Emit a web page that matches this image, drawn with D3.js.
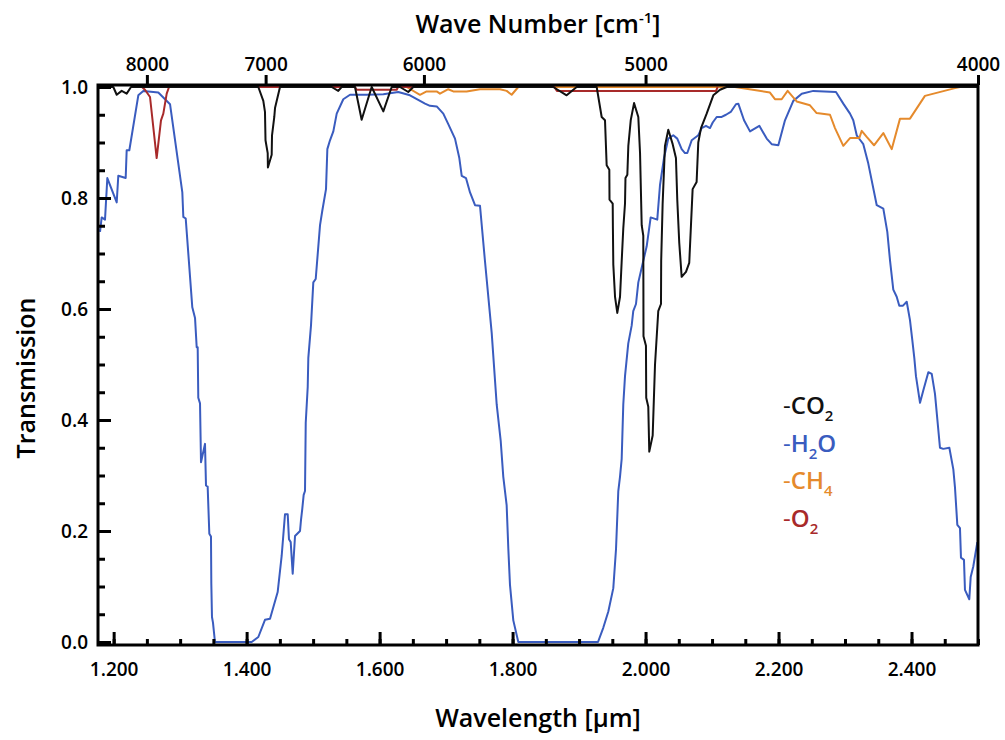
<!DOCTYPE html>
<html>
<head>
<meta charset="utf-8">
<script src="https://cdn.jsdelivr.net/npm/d3@7"></script>
<style>
  body { margin: 0; background: #fff; }
  svg text { font-family: "Open Sans", Lato, sans-serif; }
</style>
</head>
<body>
<svg id="chart"></svg>
<script>
const width = 1005;
const height = 740;
// plot frame 98..978 x 85..645, data T=0..1 maps to 642..87
const frame = { left: 98, right: 978, top: 85, bottom: 645 };

// wavelength [µm] and transmission
const co2Wl = [1.1765, 1.1995, 1.2046, 1.2121, 1.2196, 1.2261, 1.4176, 1.4251, 1.4276, 1.4284, 1.4317, 1.4320, 1.4377, 1.4382, 1.4416, 1.4427, 1.4502,
  1.5279, 1.5378, 1.5429, 1.5630, 1.5730, 1.5881, 1.6056, 1.6182, 1.6307, 1.6431, 1.6507,
  1.8612, 1.8813, 1.8964, 1.9265, 1.9340, 1.9390, 1.9415, 1.9455, 1.9458, 1.9506, 1.9509, 1.9515, 1.9541, 1.9575, 1.9616, 1.9641, 1.9665, 1.9691, 1.9698,
  1.9726, 1.9741, 1.9777, 1.9827, 1.9891, 1.9917, 1.9942, 1.9966, 1.9969, 2.0006, 2.0010, 2.0041, 2.0056, 2.0107, 2.0142, 2.0191, 2.0232, 2.0235, 2.0257,
  2.0292, 2.0342, 2.0408, 2.0457, 2.0477, 2.0507, 2.0543, 2.0608, 2.0657, 2.0683, 2.0708, 2.0768, 2.0793, 2.0834, 2.0919, 2.1019, 2.1120, 2.1220, 2.5];
const co2T = [1.0, 1.0, 0.986, 0.993, 0.988, 1.0, 1.0, 0.975, 0.955, 0.904, 0.881, 0.855, 0.878, 0.913, 0.946, 0.962, 1.0,
  1.0, 0.993, 1.0, 1.0, 0.941, 1.0, 0.956, 1.0, 1.0, 0.991, 1.0,
  1.0, 0.985, 1.0, 1.0, 0.946, 0.94, 0.859, 0.851, 0.797, 0.79, 0.745, 0.68, 0.622, 0.593, 0.622, 0.686, 0.745, 0.79, 0.836,
  0.842, 0.894, 0.94, 0.971, 0.946, 0.881, 0.751, 0.732, 0.551, 0.534, 0.44, 0.424, 0.343, 0.372, 0.499, 0.596, 0.609, 0.687, 0.79,
  0.894, 0.923, 0.897, 0.872, 0.797, 0.719, 0.658, 0.667, 0.683, 0.751, 0.816, 0.829, 0.9, 0.926, 0.952, 0.985, 0.995, 1.0, 1.0];

const h2oWl = [1.1795, 1.1820, 1.1870, 1.1905, 1.2046, 1.2070, 1.2181, 1.2196, 1.2236, 1.2371, 1.2446, 1.2672, 1.2848, 1.3033, 1.3048, 1.3084,
  1.3183, 1.3224, 1.3249, 1.3264, 1.3273, 1.3299, 1.3314, 1.3374, 1.3389, 1.3414, 1.3439, 1.3464, 1.3469, 1.3479, 1.3494, 1.3524,
  1.4076, 1.4176, 1.4276, 1.4352, 1.4467, 1.4527, 1.4577, 1.4618, 1.4637, 1.4663, 1.4693, 1.4728, 1.4803, 1.4818, 1.4837, 1.4858, 1.4878,
  1.4889, 1.4919, 1.4928, 1.4968, 1.5003, 1.5039, 1.5104, 1.5138, 1.5194, 1.5214, 1.5254, 1.5304, 1.5355, 1.5454, 1.5555, 1.5806, 1.6056,
  1.6281, 1.6457, 1.6608, 1.6683, 1.6758, 1.6859, 1.6958, 1.7033, 1.7134, 1.7199, 1.7235, 1.7299, 1.7360, 1.7435, 1.7510, 1.7585, 1.7686,
  1.7761, 1.7821, 1.7860, 1.7911, 1.7936, 1.7961, 1.8011, 1.8086, 1.9285, 1.9365, 1.9440, 1.9515, 1.9556, 1.9590, 1.9616, 1.9641, 1.9665,
  1.9691, 1.9740, 1.9791, 1.9815, 1.9856, 1.9891, 1.9941, 2.0017, 2.0077, 2.0176, 2.0217, 2.0277, 2.0342, 2.0417, 2.0477, 2.0543, 2.0593,
  2.0628, 2.0694, 2.0793, 2.0844, 2.0909, 2.0969, 2.1010, 2.1070, 2.1145, 2.1210, 2.1281, 2.1360, 2.1395, 2.1481, 2.1571, 2.1711, 2.1822,
  2.1897, 2.1997, 2.2097, 2.2222, 2.2349, 2.2523, 2.2864, 2.2974, 2.3075, 2.3124, 2.3176, 2.3225, 2.3275, 2.3350, 2.3477, 2.3576, 2.3636,
  2.3677, 2.3726, 2.3777, 2.3816, 2.3872, 2.3928, 2.3977, 2.4012, 2.4042, 2.4067, 2.4128, 2.4177, 2.4253, 2.4304, 2.4353, 2.4428, 2.4478,
  2.4569, 2.4629, 2.4654, 2.4689, 2.4729, 2.4744, 2.4789, 2.4804, 2.4869, 2.4890, 2.4929, 2.4990];
const h2oT = [0.739, 0.765, 0.761, 0.836, 0.792, 0.840, 0.836, 0.886, 0.886, 0.985, 0.993, 0.99, 0.969, 0.81, 0.766, 0.763,
  0.603, 0.584, 0.531, 0.531, 0.44, 0.43, 0.324, 0.357, 0.282, 0.280, 0.195, 0.19, 0.105, 0.045, 0.035, 0.0,
  0.0, 0.009, 0.04, 0.042, 0.09, 0.155, 0.23, 0.23, 0.185, 0.18, 0.123, 0.191, 0.2, 0.22, 0.24, 0.265, 0.272,
  0.395, 0.46, 0.512, 0.57, 0.648, 0.654, 0.751, 0.777, 0.816, 0.888, 0.904, 0.92, 0.952, 0.978, 0.986, 0.986, 0.987,
  0.991, 0.985, 0.975, 0.970, 0.966, 0.965, 0.952, 0.933, 0.907, 0.872, 0.840, 0.836, 0.81, 0.787, 0.786, 0.686, 0.557,
  0.428, 0.363, 0.298, 0.246, 0.168, 0.103, 0.039, 0.0, 0.0, 0.026, 0.055, 0.097, 0.168, 0.272, 0.298, 0.33, 0.428,
  0.479, 0.538, 0.570, 0.596, 0.609, 0.648, 0.674, 0.713, 0.765, 0.761, 0.823, 0.872, 0.907, 0.913, 0.907, 0.888, 0.881,
  0.881, 0.904, 0.913, 0.926, 0.930, 0.926, 0.936, 0.946, 0.946, 0.950, 0.955, 0.969, 0.970, 0.940, 0.920, 0.930, 0.907,
  0.897, 0.895, 0.940, 0.975, 0.988, 0.993, 0.991, 0.970, 0.952, 0.94, 0.913, 0.905, 0.897, 0.862, 0.787, 0.781, 0.739,
  0.687, 0.635, 0.622, 0.606, 0.606, 0.613, 0.580, 0.544, 0.512, 0.479, 0.431, 0.453, 0.486, 0.483, 0.447, 0.350, 0.348,
  0.350, 0.311, 0.278, 0.211, 0.205, 0.152, 0.148, 0.094, 0.077, 0.117, 0.136, 0.18];

const ch4Wl = [1.6232, 1.6407, 1.6607, 1.6707, 1.6858, 1.6908, 1.7033, 1.7108, 1.7309, 1.7510, 1.7811, 1.7911, 1.7986, 1.8086,
  2.1345, 2.1871, 2.1946, 2.2047, 2.2137, 2.2273, 2.2473, 2.2573, 2.2774, 2.2849, 2.2974, 2.3075, 2.3215, 2.3251, 2.3326, 2.3436,
  2.3576, 2.3702, 2.3827, 2.3977, 2.4202, 2.4654, 2.4729];
const ch4T = [1.0, 1.0, 0.986, 0.992, 0.992, 0.988, 0.996, 0.992, 0.992, 0.996, 0.996, 0.993, 0.986, 1.0,
  1.0, 0.99, 0.978, 0.978, 0.993, 0.974, 0.967, 0.953, 0.950, 0.926, 0.894, 0.908, 0.908, 0.921, 0.91, 0.895,
  0.917, 0.888, 0.943, 0.943, 0.984, 0.998, 1.0];

const o2Wl = [1.2426, 1.2471, 1.2547, 1.2647, 1.2712, 1.2747, 1.2798, 1.2833, 1.5630, 1.5655, 1.6257, 1.6277, 1.8627, 1.8667, 2.1060, 2.1085];
const o2T = [1.0, 0.995, 0.982, 0.872, 0.94, 0.952, 0.988, 1.0, 1.0, 0.995, 0.995, 1.0, 1.0, 0.993, 0.993, 1.0];

const species = ["CO2", "H2O", "CH4", "O2"];
const colors = ["#111111", "#3a5cbf", "#e58a2c", "#a82a2a"];
const legendParts = [["C", "O", "2"], ["H", "2", "O"], ["C", "H", "4"], ["O", "2"]];

const yTicks = [0, 0.2, 0.4, 0.6, 0.8, 1.0];
const xTicks = [1.2, 1.4, 1.6, 1.8, 2.0, 2.2, 2.4];
const waveNumbers = [8000, 7000, 6000, 5000, 4000];

const svg = d3.select("#chart").attr("width", width).attr("height", height);

const x = d3.scaleLinear()
  .domain([1e4 / 8500, 1e4 / 4000])
  .range([frame.left, frame.right]);
const y = d3.scaleLinear()
  .domain([0, 1])
  .range([642, 87]);

const line = d3.line().x(d => x(d[0])).y(d => y(d[1]));

const series = [
  d3.zip(co2Wl, co2T),
  d3.zip(h2oWl, h2oT),
  d3.zip(ch4Wl, ch4T),
  d3.zip(o2Wl, o2T)
];

// draw order: H2O under, then CH4, O2, CO2
[1, 2, 3, 0].forEach(i => {
  svg.append("path")
    .datum(series[i])
    .attr("fill", "none")
    .attr("stroke", colors[i])
    .attr("stroke-width", 2)
    .attr("stroke-linejoin", "round")
    .attr("d", line);
});

// frame
svg.append("rect")
  .attr("x", frame.left)
  .attr("y", frame.top)
  .attr("width", frame.right - frame.left)
  .attr("height", frame.bottom - frame.top)
  .attr("fill", "none")
  .attr("stroke", "#000")
  .attr("stroke-width", 3);

const tickFont = g => g.selectAll("text")
  .attr("font-size", 19).attr("font-weight", 600).attr("fill", "#000");

// left axis
const yMinor = d3.range(0, 1.001, 0.05);
svg.append("g")
  .attr("transform", `translate(${frame.left},0)`)
  .call(d3.axisLeft(y).tickValues(yMinor).tickSize(-7).tickFormat(""))
  .call(g => g.select(".domain").remove())
  .call(g => g.selectAll("line").attr("stroke-width", 3));
svg.append("g")
  .attr("transform", `translate(${frame.left},0)`)
  .call(d3.axisLeft(y).tickValues(yTicks).tickSize(-13).tickPadding(10).tickFormat(d3.format(".1f")))
  .call(g => g.select(".domain").remove())
  .call(g => g.selectAll("line").attr("stroke-width", 3))
  .call(tickFont);

// bottom axis
const xMinor = d3.range(1.2, 2.501, 0.05);
svg.append("g")
  .attr("transform", `translate(0,${frame.bottom})`)
  .call(d3.axisBottom(x).tickValues(xMinor).tickSize(-6).tickFormat(""))
  .call(g => g.select(".domain").remove())
  .call(g => g.selectAll("line").attr("stroke-width", 3));
svg.append("g")
  .attr("transform", `translate(0,${frame.bottom})`)
  .call(d3.axisBottom(x).tickValues(xTicks).tickSize(-13).tickPadding(18).tickFormat(d3.format(".3f")))
  .call(g => g.select(".domain").remove())
  .call(g => g.selectAll("line").attr("stroke-width", 3))
  .call(tickFont);

// top axis: wave number
svg.append("g")
  .attr("transform", `translate(0,${frame.top})`)
  .call(d3.axisTop(x).tickValues(waveNumbers.map(w => 1e4 / w)).tickSize(10).tickPadding(4)
    .tickFormat(d => Math.round(1e4 / d)))
  .call(g => g.select(".domain").remove())
  .call(g => g.selectAll("line").attr("stroke-width", 3))
  .call(tickFont);

// axis titles
const topTitle = svg.append("text")
  .attr("x", 538).attr("y", 33)
  .attr("text-anchor", "middle")
  .attr("font-size", 25).attr("font-weight", 600);
topTitle.append("tspan").text("Wave Number [cm");
topTitle.append("tspan").attr("font-size", 15).attr("dy", -10).text("-1");
topTitle.append("tspan").attr("dy", 10).text("]");

svg.append("text")
  .attr("x", 538).attr("y", 727)
  .attr("text-anchor", "middle")
  .attr("font-size", 25).attr("font-weight", 600)
  .text("Wavelength [μm]");

svg.append("text")
  .attr("transform", "translate(35,378) rotate(-90)")
  .attr("text-anchor", "middle")
  .attr("font-size", 25).attr("font-weight", 600)
  .text("Transmission");

// legend
species.forEach((s, i) => {
  const t = svg.append("text")
    .attr("x", 783)
    .attr("y", 414 + i * 37.5)
    .attr("font-size", 24)
    .attr("font-weight", 600)
    .attr("fill", colors[i]);
  t.append("tspan").attr("font-weight", 400).text("-");
  let shift = 0;
  legendParts[i].forEach(p => {
    const sub = /\d/.test(p);
    const dy = (sub ? 7 : 0) - shift;
    shift = sub ? 7 : 0;
    t.append("tspan")
      .attr("font-size", sub ? 15 : 24)
      .attr("dy", dy)
      .text(p);
  });
});
</script>
</body>
</html>
